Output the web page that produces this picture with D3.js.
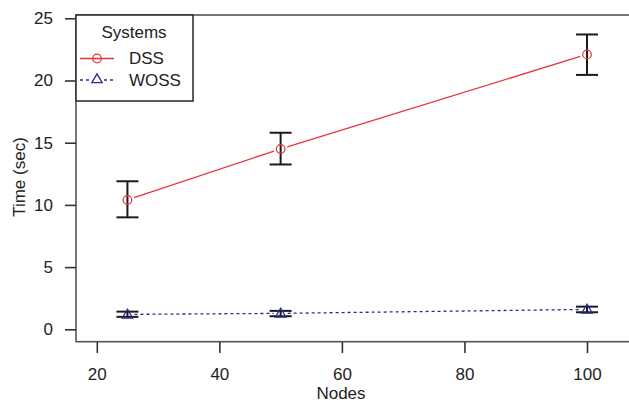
<!DOCTYPE html>
<html>
<head>
<meta charset="utf-8">
<script src="https://cdn.jsdelivr.net/npm/d3@7"></script>
<style>
  body { margin: 0; background: #fff; }
  text { font-family: "Liberation Sans", Arial, sans-serif; fill: #222; }
</style>
</head>
<body>
<svg id="chart" width="629" height="404"></svg>
<script>
// data
const nodes = [25, 50, 100];
const dssMean = [10.4, 14.5, 22.1];
const dssLow = [9.0, 13.25, 20.45];
const dssHigh = [11.9, 15.8, 23.7];
const wossMean = [1.2, 1.28, 1.6];
const wossLow = [1.0, 1.05, 1.37];
const wossHigh = [1.42, 1.48, 1.82];
const xTicks = [20, 40, 60, 80, 100];
const yTicks = [0, 5, 10, 15, 20, 25];

const svg = d3.select('#chart');
const box = { left: 76, top: 15, bottom: 341.7, right: 640 };

const x = d3.scaleLinear().domain([20, 100]).range([96.8, 587]);
const y = d3.scaleLinear().domain([0, 25]).range([329.3, 18.3]);

const red = '#e8333a';
const navy = '#2b2b8c';

// plot box (right side runs off the picture)
svg.append('rect')
  .attr('x', box.left).attr('y', box.top)
  .attr('width', box.right - box.left).attr('height', box.bottom - box.top)
  .attr('fill', 'none').attr('stroke', '#555').attr('stroke-width', 1.6);

// axes
const yAxis = svg.append('g')
  .attr('transform', `translate(${box.left},0)`)
  .call(d3.axisLeft(y).tickValues(yTicks).tickSize(11).tickPadding(12));
const xAxis = svg.append('g')
  .attr('transform', `translate(0,${box.bottom + 0.3})`)
  .call(d3.axisBottom(x).tickValues(xTicks).tickSize(11).tickPadding(15));
[xAxis, yAxis].forEach(a => {
  a.select('.domain').remove();
  a.selectAll('line').attr('stroke', '#333').attr('stroke-width', 1.6);
  a.selectAll('text').style('font-size', '17px').attr('fill', '#222');
});

svg.append('text')
  .attr('x', 341).attr('y', 393).attr('dy', '0.35em')
  .attr('text-anchor', 'middle').style('font-size', '17px')
  .text('Nodes');
svg.append('text')
  .attr('transform', 'translate(19,177) rotate(-90)')
  .attr('dy', '0.35em').attr('text-anchor', 'middle').style('font-size', '17px')
  .text('Time (sec)');

// line with gaps around points (R type "b")
function series(mean, low, high, color, dash, marker) {
  const pts = nodes.map((n, i) => [x(n), y(mean[i])]);
  const g = svg.append('g');
  for (let i = 0; i < pts.length - 1; i++) {
    const [x1, y1] = pts[i], [x2, y2] = pts[i + 1];
    const len = Math.hypot(x2 - x1, y2 - y1), ux = (x2 - x1) / len, uy = (y2 - y1) / len;
    const gap = 7;
    g.append('line')
      .attr('x1', x1 + ux * gap).attr('y1', y1 + uy * gap)
      .attr('x2', x2 - ux * gap).attr('y2', y2 - uy * gap)
      .attr('stroke', color).attr('stroke-width', 1.3)
      .attr('stroke-dasharray', dash);
  }
  // error bars
  nodes.forEach((n, i) => {
    const cx = x(n);
    g.append('line').attr('x1', cx).attr('x2', cx)
      .attr('y1', y(low[i])).attr('y2', y(high[i]))
      .attr('stroke', '#1a1a1a').attr('stroke-width', 2);
    [low[i], high[i]].forEach(v => {
      g.append('line').attr('x1', cx - 11).attr('x2', cx + 11)
        .attr('y1', y(v)).attr('y2', y(v))
        .attr('stroke', '#1a1a1a').attr('stroke-width', 2);
    });
  });
  pts.forEach(p => marker(g, p[0], p[1]));
}

function circle(g, cx, cy) {
  g.append('circle').attr('cx', cx).attr('cy', cy).attr('r', 4.3)
    .attr('fill', 'none').attr('stroke', red).attr('stroke-width', 1.2);
}
function triangle(g, cx, cy) {
  const s = 5.2;
  g.append('path')
    .attr('d', `M${cx},${cy - s}L${cx + s},${cy + s * 0.7}L${cx - s},${cy + s * 0.7}Z`)
    .attr('fill', 'none').attr('stroke', navy).attr('stroke-width', 1.3);
}

series(dssMean, dssLow, dssHigh, red, null, circle);
series(wossMean, wossLow, wossHigh, navy, '3,3', triangle);

// legend
const lg = svg.append('g');
lg.append('rect').attr('x', box.left).attr('y', box.top)
  .attr('width', 117).attr('height', 86)
  .attr('fill', '#fff').attr('stroke', '#333').attr('stroke-width', 1.6);
lg.append('text').attr('x', 134).attr('y', 32).attr('dy', '0.35em')
  .attr('text-anchor', 'middle').style('font-size', '17px').text('Systems');
lg.append('line').attr('x1', 80).attr('x2', 114).attr('y1', 58.5).attr('y2', 58.5)
  .attr('stroke', red).attr('stroke-width', 1.3);
circle(lg, 97, 58.5);
lg.append('line').attr('x1', 80).attr('x2', 114).attr('y1', 80).attr('y2', 80)
  .attr('stroke', navy).attr('stroke-width', 1.3).attr('stroke-dasharray', '3,3');
lg.append('rect').attr('x', 92).attr('y', 73).attr('width', 10).attr('height', 10).attr('fill', '#fff');
triangle(lg, 97, 79);
lg.append('text').attr('x', 129).attr('y', 58.5).attr('dy', '0.35em')
  .style('font-size', '17px').text('DSS');
lg.append('text').attr('x', 129).attr('y', 80).attr('dy', '0.35em')
  .style('font-size', '17px').text('WOSS');
</script>
</body>
</html>
